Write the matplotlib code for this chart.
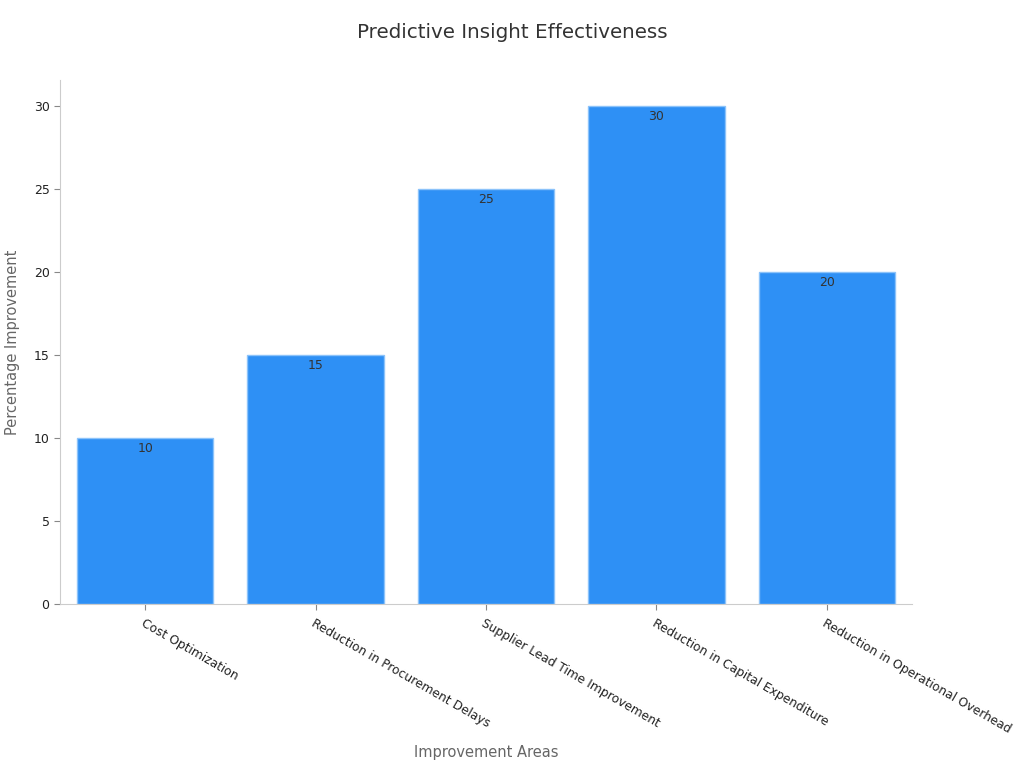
import matplotlib
matplotlib.use('Agg')
import matplotlib.pyplot as plt

categories = ['Cost Optimization', 'Reduction in Procurement Delays',
              'Supplier Lead Time Improvement', 'Reduction in Capital Expenditure',
              'Reduction in Operational Overhead']
values = [10, 15, 25, 30, 20]
yticks = [0, 5, 10, 15, 20, 25, 30]

fig = plt.figure(figsize=(10.24, 7.68), dpi=100)
ax = fig.add_axes([0.0586, 0.2135, 0.832, 0.6823])

bars = ax.bar(range(len(categories)), values, width=0.8, color='#2e90f5',
              edgecolor='#8cc3fa', linewidth=1)
for b, v in zip(bars, values):
    ax.text(b.get_x() + b.get_width() / 2, v - 0.25, str(v), ha='center', va='top',
            fontsize=9, color='#333333')

ax.set_xlim(-0.5, 4.5)
ax.set_ylim(0, 31.57)
ax.set_yticks(yticks)
ax.set_xticks(range(len(categories)))
ax.tick_params(axis='y', labelsize=9, colors='#888888', labelcolor='#222222', length=4)
ax.tick_params(axis='x', colors='#888888', labelcolor='#222222', length=4, pad=5)
ax.set_xticklabels(categories, rotation=-30, ha='left', rotation_mode='anchor',
                   fontsize=8.8, color='#222222')

for s in ['top', 'right']:
    ax.spines[s].set_visible(False)
for s in ['left', 'bottom']:
    ax.spines[s].set_color('#cccccc')

ax.set_xlabel('Improvement Areas', fontsize=10.5, color='#666666', labelpad=7)
ax.set_ylabel('Percentage Improvement', fontsize=10.5, color='#666666', labelpad=10)
fig.suptitle('Predictive Insight Effectiveness', fontsize=14.3, color='#333333', y=0.97)

plt.savefig('out.png')
